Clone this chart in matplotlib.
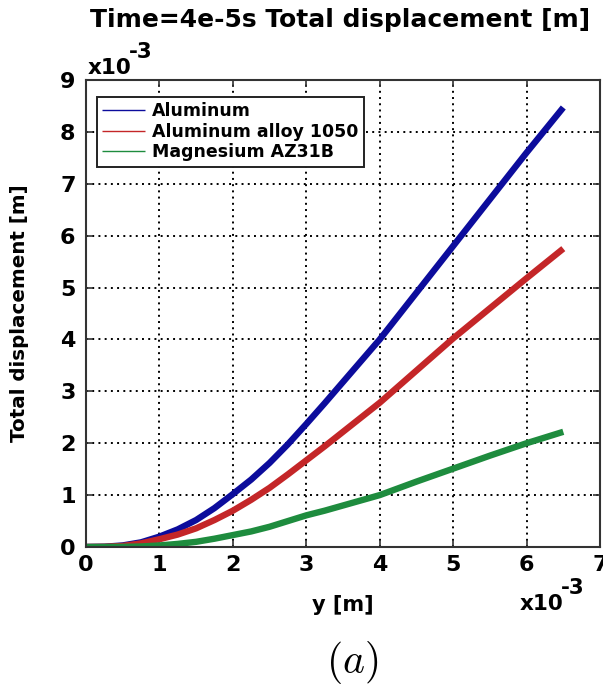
import matplotlib
matplotlib.use("Agg")
import matplotlib.pyplot as plt

# Data (position in units of 1e-3 m, displacement in units of 1e-3 m)
y_pos = [0, 0.25, 0.5, 0.75, 1, 1.25, 1.5, 1.75, 2, 2.25, 2.5, 2.75, 3, 3.25, 3.5, 3.75,
         4, 4.5, 5, 5.5, 6, 6.5]
aluminum = [0, 0.005, 0.03, 0.09, 0.2, 0.34, 0.52, 0.75, 1.02, 1.3, 1.62, 1.98, 2.37, 2.77,
            3.18, 3.59, 4.0, 4.9, 5.8, 6.7, 7.6, 8.47]
alloy_1050 = [0, 0.004, 0.02, 0.07, 0.15, 0.24, 0.36, 0.52, 0.7, 0.91, 1.14, 1.4, 1.67, 1.94,
              2.22, 2.5, 2.78, 3.4, 4.02, 4.6, 5.18, 5.75]
magnesium = [0, 0.001, 0.003, 0.01, 0.03, 0.06, 0.1, 0.16, 0.23, 0.3, 0.39, 0.5, 0.61, 0.7,
             0.8, 0.9, 1.0, 1.26, 1.51, 1.76, 2.0, 2.22]
series_names = ["Aluminum", "Aluminum alloy 1050", "Magnesium AZ31B"]
series_colors = ["#0c0c9c", "#c42628", "#1e8c3e"]
x_ticks = [0, 1, 2, 3, 4, 5, 6, 7]
y_ticks = [0, 1, 2, 3, 4, 5, 6, 7, 8, 9]

W, H = 603, 695
fig = plt.figure(figsize=(W / 100, H / 100), dpi=100)
ax = fig.add_axes([86 / W, 1 - 547 / H, (600 - 86) / W, (547 - 80) / H])

for vals, name, col in zip([aluminum, alloy_1050, magnesium], series_names, series_colors):
    ax.plot(y_pos, vals, color=col, lw=4.6, label=name, solid_capstyle='butt',
            solid_joinstyle='round')

ax.set_xlim(0, 7)
ax.set_ylim(0, 9)
ax.set_xticks(x_ticks)
ax.set_yticks(y_ticks)
ax.set_xticklabels([str(t) for t in x_ticks], fontsize=16, fontweight='bold')
ax.set_yticklabels([str(t) for t in y_ticks], fontsize=16, fontweight='bold')
ax.tick_params(direction='in', length=5, width=1.2, top=True, right=True, color='#333333')
ax.tick_params(axis='y', pad=7.5)
ax.tick_params(axis='x', pad=6)
ax.grid(True, color='black', linestyle=(0, (1, 2.2)), linewidth=1.4)
for s in ax.spines.values():
    s.set_color('#333333')
    s.set_linewidth(1.5)

leg = ax.legend(loc='upper left', bbox_to_anchor=(0.021, 0.9636),
                prop={'weight': 'bold', 'size': 12.5}, frameon=True, fancybox=False,
                edgecolor='#222222', handlelength=2.5, borderpad=0.3, labelspacing=0.15,
                handletextpad=0.4, borderaxespad=0.0, framealpha=1.0)
leg.get_frame().set_linewidth(1.4)
for l in leg.get_lines():
    l.set_linewidth(1.0)

fig.text(0.5 * (83 + 598) / W, 1 - 20 / H, "Time=4e-5s Total displacement [m]",
         ha='center', va='center', fontsize=18, fontweight='bold')
ax.set_ylabel("Total displacement [m]", fontsize=14.3, fontweight='bold', labelpad=22)
ax.set_xlabel("y [m]", fontsize=15, fontweight='bold', labelpad=14)

# exponent labels
fig.text(88 / W, 1 - 74 / H, "x10", ha='left', va='baseline', fontsize=15.5, fontweight='bold')
fig.text(129 / W, 1 - 58 / H, "-3", ha='left', va='baseline', fontsize=15.5, fontweight='bold')
fig.text(520 / W, 1 - 610 / H, "x10", ha='left', va='baseline', fontsize=15.5, fontweight='bold')
fig.text(561 / W, 1 - 594 / H, "-3", ha='left', va='baseline', fontsize=15.5, fontweight='bold')

fig.text(352 / W, 1 - 662 / H, r"$(a)$", ha='center', va='center', fontsize=30,
         math_fontfamily='cm')

fig.savefig("out.png", dpi=100)
